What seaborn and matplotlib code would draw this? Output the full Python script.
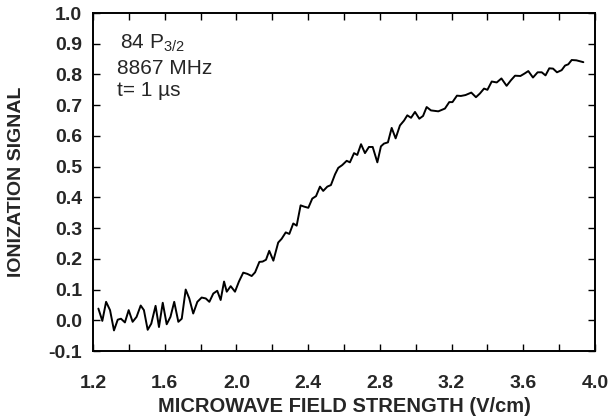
import matplotlib
matplotlib.use("Agg")
import matplotlib.pyplot as plt
import seaborn as sns
import pandas as pd
from matplotlib.ticker import MultipleLocator, FormatStrFormatter

field = [1.230, 1.252, 1.273, 1.295, 1.317, 1.338, 1.356, 1.378, 1.399, 1.421,
         1.443, 1.466, 1.484, 1.505, 1.525, 1.549, 1.568, 1.589, 1.611, 1.632,
         1.653, 1.676, 1.695, 1.717, 1.737, 1.759, 1.782, 1.806, 1.829, 1.849,
         1.871, 1.893, 1.912, 1.931, 1.946, 1.968, 1.992, 2.014, 2.038, 2.061,
         2.085, 2.104, 2.128, 2.146, 2.165, 2.183, 2.206, 2.233, 2.252, 2.275,
         2.295, 2.317, 2.336, 2.358, 2.377, 2.401, 2.423, 2.444, 2.466, 2.484,
         2.507, 2.527, 2.550, 2.568, 2.590, 2.615, 2.633, 2.656, 2.674, 2.695,
         2.717, 2.739, 2.760, 2.786, 2.806, 2.823, 2.845, 2.866, 2.888, 2.912,
         2.935, 2.953, 2.974, 2.996, 3.020, 3.041, 3.061, 3.085, 3.126, 3.163,
         3.187, 3.205, 3.230, 3.252, 3.278, 3.310, 3.336, 3.358, 3.381, 3.400,
         3.424, 3.452, 3.478, 3.507, 3.531, 3.554, 3.584, 3.607, 3.628, 3.654,
         3.680, 3.703, 3.724, 3.745, 3.766, 3.788, 3.814, 3.833, 3.851, 3.870,
         3.896, 3.935]

signal = [0.038, -0.002, 0.060, 0.033, -0.033, 0.002, 0.005, -0.007, 0.033, -0.005,
          0.011, 0.048, 0.033, -0.031, -0.011, 0.047, -0.022, 0.057, -0.013, 0.011,
          0.060, -0.005, 0.005, 0.100, 0.071, 0.022, 0.060, 0.074, 0.071, 0.060,
          0.087, 0.096, 0.066, 0.126, 0.093, 0.111, 0.093, 0.126, 0.155, 0.151,
          0.144, 0.156, 0.190, 0.191, 0.197, 0.226, 0.194, 0.253, 0.265, 0.286,
          0.281, 0.315, 0.308, 0.374, 0.370, 0.366, 0.396, 0.404, 0.435, 0.421,
          0.435, 0.440, 0.475, 0.496, 0.505, 0.519, 0.514, 0.544, 0.538, 0.573,
          0.544, 0.564, 0.564, 0.514, 0.566, 0.575, 0.579, 0.626, 0.592, 0.634,
          0.650, 0.667, 0.659, 0.678, 0.656, 0.665, 0.694, 0.683, 0.680, 0.689,
          0.710, 0.710, 0.731, 0.730, 0.733, 0.741, 0.726, 0.738, 0.754, 0.750,
          0.777, 0.774, 0.787, 0.763, 0.781, 0.796, 0.795, 0.803, 0.811, 0.790,
          0.807, 0.807, 0.797, 0.820, 0.819, 0.807, 0.814, 0.829, 0.833, 0.847,
          0.846, 0.840]

x_ticks = [1.2, 1.6, 2.0, 2.4, 2.8, 3.2, 3.6, 4.0]
y_ticks = [-0.1, 0.0, 0.1, 0.2, 0.3, 0.4, 0.5, 0.6, 0.7, 0.8, 0.9, 1.0]
note_lines = ["84 P$_{3/2}$", "8867 MHz", "t= 1 \u00b5s"]

sns.set_theme(style="ticks")
plt.rcParams["font.family"] = ["Liberation Sans", "DejaVu Sans"]
plt.rcParams["mathtext.fontset"] = "custom"
plt.rcParams["mathtext.rm"] = "Liberation Sans"
plt.rcParams["mathtext.it"] = "Liberation Sans"
plt.rcParams["axes.unicode_minus"] = False

df = pd.DataFrame({"field": field, "signal": signal})

fig = plt.figure(figsize=(6.10, 4.19), dpi=100)
ax = fig.add_axes([93 / 610, 1 - 351 / 419, 502 / 610, 338 / 419])
sns.lineplot(data=df, x="field", y="signal", color="black", linewidth=1.4,
             estimator=None, sort=False, ax=ax)

ax.set_xlim(1.2, 4.0)
ax.set_ylim(-0.1, 1.0)
ax.set_xticks(x_ticks)
ax.set_yticks(y_ticks)
ax.xaxis.set_minor_locator(MultipleLocator(0.2))
ax.xaxis.set_major_formatter(FormatStrFormatter("%.1f"))
ax.yaxis.set_major_formatter(FormatStrFormatter("%.1f"))
ax.tick_params(which="both", direction="in", top=True, right=True,
               length=5, width=1.0, color="black")
ax.tick_params(axis="x", which="major", labelsize=14, pad=17)
ax.tick_params(axis="y", which="major", labelsize=14, pad=8)
for lab in ax.get_xticklabels() + ax.get_yticklabels():
    lab.set_fontweight("bold")
for s in ax.spines.values():
    s.set_visible(True)
    s.set_linewidth(1.4)
    s.set_color("black")

ax.set_xlabel("MICROWAVE FIELD STRENGTH (V/cm)", fontsize=14.5,
              fontweight="bold", labelpad=4)
ax.set_ylabel("IONIZATION SIGNAL", fontsize=14, fontweight="bold",
              labelpad=17)

ax.text(1.35, 0.885, note_lines[0], fontsize=15, ha="left", va="baseline")
ax.text(1.334, 0.803, note_lines[1], fontsize=15, ha="left", va="baseline")
ax.text(1.334, 0.731, note_lines[2], fontsize=15, ha="left", va="baseline")

fig.savefig("out.png", dpi=100)
